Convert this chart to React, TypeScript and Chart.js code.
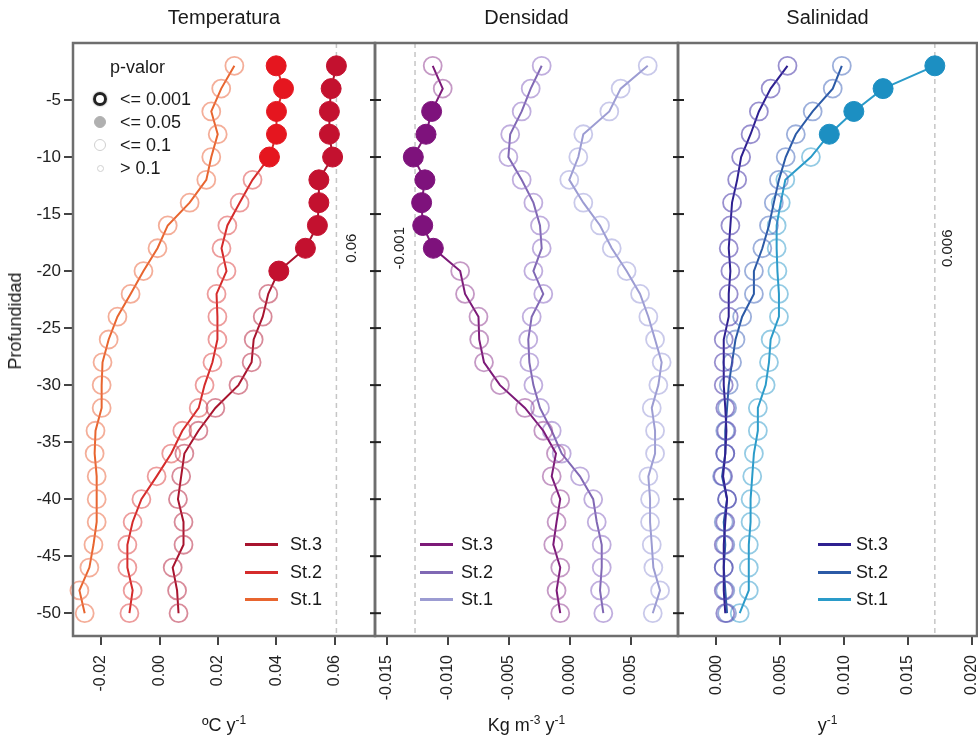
import React, { useEffect, useRef } from 'react';
import { Chart, registerables } from 'chart.js';
Chart.register(...registerables);

const FONT = "'Liberation Sans', Arial, sans-serif";

const DEPTHS = [-2, -4, -6, -8, -10, -12, -14, -16, -18, -20, -22, -24, -26, -28, -30, -32, -34, -36, -38, -40, -42, -44, -46, -48, -50];
const Y_TICKS = [-5, -10, -15, -20, -25, -30, -35, -40, -45, -50];

const TEMP_TICKS = [-0.02, 0, 0.02, 0.04, 0.06];
const DENS_TICKS = [-0.015, -0.01, -0.005, 0, 0.005];
const SAL_TICKS = [0, 0.005, 0.01, 0.015, 0.02];

// Temperatura (ºC y-1)
const TEMP_ST3 = [0.0605, 0.0587, 0.0581, 0.0581, 0.0592, 0.0545, 0.0545, 0.054, 0.0499, 0.0408, 0.0372, 0.0353, 0.0322, 0.0315, 0.027, 0.0191, 0.0133, 0.0085, 0.0074, 0.0063, 0.0082, 0.0082, 0.0045, 0.006, 0.0065];
const TEMP_ST2 = [0.0399, 0.0424, 0.040, 0.040, 0.0376, 0.0318, 0.0274, 0.0232, 0.0212, 0.0229, 0.0195, 0.0198, 0.0198, 0.0181, 0.0154, 0.0134, 0.0078, 0.004, -0.001, -0.0062, -0.0092, -0.011, -0.011, -0.0092, -0.0103];
const TEMP_ST1 = [0.0256, 0.0211, 0.0177, 0.0199, 0.0177, 0.016, 0.0103, 0.0028, -0.0007, -0.0055, -0.0099, -0.0144, -0.0174, -0.0195, -0.0198, -0.0198, -0.0219, -0.0222, -0.0215, -0.0215, -0.0215, -0.0226, -0.024, -0.0274, -0.0256];
const TEMP_ST3_SIG = [1, 1, 1, 1, 1, 1, 1, 1, 1, 1, 0, 0, 0, 0, 0, 0, 0, 0, 0, 0, 0, 0, 0, 0, 0];
const TEMP_ST2_SIG = [1, 1, 1, 1, 1, 0, 0, 0, 0, 0, 0, 0, 0, 0, 0, 0, 0, 0, 0, 0, 0, 0, 0, 0, 0];
const TEMP_ST1_SIG = [0, 0, 0, 0, 0, 0, 0, 0, 0, 0, 0, 0, 0, 0, 0, 0, 0, 0, 0, 0, 0, 0, 0, 0, 0];

// Densidad (Kg m-3 y-1)
const DENS_ST3 = [-0.01125, -0.01043, -0.01134, -0.0118, -0.01284, -0.01189, -0.01216, -0.01207, -0.0112, -0.009, -0.0086, -0.0075, -0.00744, -0.00705, -0.00574, -0.00369, -0.00219, -0.00115, -0.0015, -0.0008, -0.0011, -0.00137, -0.0008, -0.0011, -0.0008];
const DENS_ST2 = [-0.00232, -0.00322, -0.00396, -0.0049, -0.00505, -0.00396, -0.003, -0.00246, -0.00232, -0.003, -0.00219, -0.00314, -0.00342, -0.00333, -0.003, -0.00246, -0.0015, -0.00068, 0.00082, 0.0019, 0.00219, 0.0026, 0.0026, 0.00246, 0.00273];
const DENS_ST1 = [0.00637, 0.00415, 0.00322, 0.00109, 0.00068, -0.00006, 0.00109, 0.00246, 0.00342, 0.00464, 0.00574, 0.00642, 0.00697, 0.00751, 0.00724, 0.0067, 0.00697, 0.00697, 0.00642, 0.00656, 0.00656, 0.0067, 0.00683, 0.00738, 0.00678];
const DENS_ST3_SIG = [0, 0, 1, 1, 1, 1, 1, 1, 1, 0, 0, 0, 0, 0, 0, 0, 0, 0, 0, 0, 0, 0, 0, 0, 0];
const DENS_ST2_SIG = [0, 0, 0, 0, 0, 0, 0, 0, 0, 0, 0, 0, 0, 0, 0, 0, 0, 0, 0, 0, 0, 0, 0, 0, 0];
const DENS_ST1_SIG = [0, 0, 0, 0, 0, 0, 0, 0, 0, 0, 0, 0, 0, 0, 0, 0, 0, 0, 0, 0, 0, 0, 0, 0, 0];

// Salinidad (y-1)
const SAL_ST3 = [0.00557, 0.00425, 0.00333, 0.00268, 0.00194, 0.00163, 0.00123, 0.0011, 0.00097, 0.0011, 0.00097, 0.00097, 0.00058, 0.00058, 0.00058, 0.0007, 0.00079, 0.0007, 0.00053, 0.00084, 0.0007, 0.00058, 0.00058, 0.00058, 0.0007];
const SAL_ST2 = [0.00982, 0.00911, 0.00754, 0.00622, 0.00543, 0.0049, 0.0045, 0.00412, 0.0036, 0.00294, 0.00294, 0.00202, 0.0015, 0.00123, 0.00097, 0.00084, 0.0007, 0.0007, 0.00045, 0.00084, 0.00058, 0.0007, 0.00058, 0.0007, 0.00084];
const SAL_ST1 = [0.0171, 0.01305, 0.01076, 0.00884, 0.0074, 0.0054, 0.00504, 0.00472, 0.00472, 0.00478, 0.0049, 0.0049, 0.00425, 0.00412, 0.00386, 0.00325, 0.00325, 0.00294, 0.00281, 0.00268, 0.00268, 0.00254, 0.00254, 0.00254, 0.00183];
const SAL_ST3_SIG = [0, 0, 0, 0, 0, 0, 0, 0, 0, 0, 0, 0, 0, 0, 0, 0, 0, 0, 0, 0, 0, 0, 0, 0, 0];
const SAL_ST2_SIG = [0, 0, 0, 0, 0, 0, 0, 0, 0, 0, 0, 0, 0, 0, 0, 0, 0, 0, 0, 0, 0, 0, 0, 0, 0];
const SAL_ST1_SIG = [1, 1, 1, 1, 0, 0, 0, 0, 0, 0, 0, 0, 0, 0, 0, 0, 0, 0, 0, 0, 0, 0, 0, 0, 0];

const SERIES_LABELS = ['St.3', 'St.2', 'St.1'];
const REF_VALUES = [0.0605, -0.0127, 0.0171];
const REF_LABELS = ['0.06', '-0.001', '0.006'];
const P_LEGEND = ['<= 0.001', '<= 0.05', '<= 0.1', '> 0.1'];

type Series = { label: string; values: number[]; sig: number[]; line: string; fill: string; open: string };
type Panel = {
  title: string;
  xMin: number; xMax: number; ticks: number[]; decimals: number;
  refValue: number; refLabel: string; refSide: number;
  series: Series[];
  canvasLeft: number; canvasWidth: number; padLeft: number; padRight: number; showY: boolean;
  legendLineX: number; legendTextX: number;
  axisTitle: React.ReactNode;
};

const sup = (t: string) => (
  <span style={{ fontSize: 12, position: 'relative', top: -7 }}>{t}</span>
);

const PANELS: Panel[] = [
  {
    title: 'Temperatura', xMin: -0.0296, xMax: 0.0737, ticks: TEMP_TICKS, decimals: 2,
    refValue: REF_VALUES[0], refLabel: REF_LABELS[0], refSide: 15,
    series: [
      { label: SERIES_LABELS[0], values: TEMP_ST3, sig: TEMP_ST3_SIG, line: '#a8142e', fill: '#c3112f', open: 'rgba(190,60,85,0.6)' },
      { label: SERIES_LABELS[1], values: TEMP_ST2, sig: TEMP_ST2_SIG, line: '#d52b2b', fill: '#e5161f', open: 'rgba(222,75,75,0.55)' },
      { label: SERIES_LABELS[2], values: TEMP_ST1, sig: TEMP_ST1_SIG, line: '#e8652f', fill: '#e8652f', open: 'rgba(236,120,85,0.6)' },
    ],
    canvasLeft: 0, canvasWidth: 377, padLeft: 0, padRight: 2, showY: true,
    legendLineX: 245, legendTextX: 290,
    axisTitle: <>ºC y{sup('-1')}</>,
  },
  {
    title: 'Densidad', xMin: -0.01598, xMax: 0.00885, ticks: DENS_TICKS, decimals: 3,
    refValue: REF_VALUES[1], refLabel: REF_LABELS[1], refSide: -15,
    series: [
      { label: SERIES_LABELS[0], values: DENS_ST3, sig: DENS_ST3_SIG, line: '#7c1a78', fill: '#7e127c', open: 'rgba(150,70,150,0.55)' },
      { label: SERIES_LABELS[1], values: DENS_ST2, sig: DENS_ST2_SIG, line: '#8068b4', fill: '#8068b4', open: 'rgba(150,120,200,0.6)' },
      { label: SERIES_LABELS[2], values: DENS_ST1, sig: DENS_ST1_SIG, line: '#9c9cd2', fill: '#9c9cd2', open: 'rgba(165,165,220,0.6)' },
    ],
    canvasLeft: 362, canvasWidth: 318, padLeft: 13, padRight: 2, showY: false,
    legendLineX: 420, legendTextX: 461,
    axisTitle: <>Kg m{sup('-3')} y{sup('-1')}</>,
  },
  {
    title: 'Salinidad', xMin: -0.003, xMax: 0.0204, ticks: SAL_TICKS, decimals: 3,
    refValue: REF_VALUES[2], refLabel: REF_LABELS[2], refSide: 13,
    series: [
      { label: SERIES_LABELS[0], values: SAL_ST3, sig: SAL_ST3_SIG, line: '#2e2090', fill: '#2e2090', open: 'rgba(85,70,175,0.6)' },
      { label: SERIES_LABELS[1], values: SAL_ST2, sig: SAL_ST2_SIG, line: '#2b5aa6', fill: '#2b5aa6', open: 'rgba(75,110,190,0.55)' },
      { label: SERIES_LABELS[2], values: SAL_ST1, sig: SAL_ST1_SIG, line: '#2a9bc9', fill: '#1c8fc2', open: 'rgba(60,160,205,0.55)' },
    ],
    canvasLeft: 665, canvasWidth: 313, padLeft: 13, padRight: 1, showY: false,
    legendLineX: 818, legendTextX: 856,
    axisTitle: <>y{sup('-1')}</>,
  },
];

const framePlugin = {
  id: 'panelFrame',
  beforeDatasetsDraw(chart: any, _a: any, opts: any) {
    const { ctx, chartArea: a } = chart;
    const x = chart.scales.x.getPixelForValue(opts.refValue);
    ctx.save();
    ctx.strokeStyle = '#c6c6c6';
    ctx.lineWidth = 1.5;
    ctx.setLineDash([5, 4]);
    ctx.beginPath();
    ctx.moveTo(x, a.top);
    ctx.lineTo(x, a.bottom);
    ctx.stroke();
    ctx.setLineDash([]);
    const ly = chart.scales.y.getPixelForValue(-18);
    ctx.translate(x + opts.refSide, ly);
    ctx.rotate(-Math.PI / 2);
    ctx.font = `15px ${FONT}`;
    ctx.fillStyle = '#222';
    ctx.textAlign = 'center';
    ctx.textBaseline = 'middle';
    ctx.fillText(opts.refLabel, 0, 0);
    ctx.restore();
  },
  afterDraw(chart: any, _a: any, opts: any) {
    const { ctx, chartArea: a } = chart;
    ctx.save();
    ctx.strokeStyle = '#6e6e6e';
    ctx.lineWidth = 2.5;
    ctx.strokeRect(a.left, a.top, a.right - a.left, a.bottom - a.top);
    if (opts.crossTicks) {
      ctx.strokeStyle = '#222';
      ctx.lineWidth = 2;
      Y_TICKS.forEach((v) => {
        const y = chart.scales.y.getPixelForValue(v);
        ctx.beginPath();
        ctx.moveTo(a.left - 5, y);
        ctx.lineTo(a.left + 6, y);
        ctx.stroke();
      });
    }
    ctx.restore();
  },
};

function PanelChart({ panel }: { panel: Panel }) {
  const ref = useRef<HTMLCanvasElement>(null);
  useEffect(() => {
    const chart = new Chart(ref.current as HTMLCanvasElement, {
      type: 'line',
      data: {
        datasets: panel.series.map((s) => ({
          label: s.label,
          data: DEPTHS.map((d, i) => ({ x: s.values[i], y: d })),
          borderColor: s.line,
          borderWidth: 2,
          tension: 0,
          fill: false,
          clip: false,
          pointStyle: 'circle',
          pointRadius: s.sig.map((v) => (v ? 10 : 9)),
          pointBackgroundColor: s.sig.map((v) => (v ? s.fill : 'rgba(255,255,255,0)')),
          pointBorderColor: s.sig.map((v) => (v ? s.fill : s.open)),
          pointBorderWidth: s.sig.map((v) => (v ? 1 : 1.8)),
        })),
      } as any,
      options: {
        responsive: false,
        animation: false,
        events: [],
        layout: { autoPadding: false, padding: { top: 43, bottom: 0, left: panel.padLeft, right: panel.padRight } },
        plugins: {
          legend: { display: false },
          tooltip: { enabled: false },
          panelFrame: { refValue: panel.refValue, refLabel: panel.refLabel, refSide: panel.refSide, crossTicks: !panel.showY },
        } as any,
        scales: {
          x: {
            type: 'linear',
            min: panel.xMin,
            max: panel.xMax,
            afterBuildTicks: (s: any) => { s.ticks = panel.ticks.map((v) => ({ value: v })); },
            afterFit: (s: any) => { s.height = 102; s.paddingLeft = 0; s.paddingRight = 0; },
            ticks: {
              autoSkip: false,
              minRotation: 90,
              maxRotation: 90,
              padding: 10,
              color: '#222',
              font: { family: FONT, size: 16 },
              callback: (v: any) => Number(v).toFixed(panel.decimals),
            },
            grid: { display: true, drawOnChartArea: false, drawTicks: true, tickLength: 9, color: '#444', lineWidth: 2 },
            border: { display: false },
          },
          y: {
            type: 'linear',
            min: -52,
            max: 0,
            display: panel.showY,
            afterBuildTicks: (s: any) => { s.ticks = Y_TICKS.map((v) => ({ value: v })); },
            afterFit: (s: any) => { s.width = panel.showY ? 73 : 0; s.paddingTop = 0; s.paddingBottom = 0; },
            ticks: { autoSkip: false, padding: 3, color: '#222', font: { family: FONT, size: 17 } },
            grid: { display: true, drawOnChartArea: false, drawTicks: true, tickLength: 9, color: '#444', lineWidth: 2 },
            border: { display: false },
          },
        },
      } as any,
      plugins: [framePlugin as any],
    });
    return () => chart.destroy();
  }, [panel]);
  return (
    <canvas
      ref={ref}
      width={panel.canvasWidth}
      height={738}
      style={{ position: 'absolute', left: panel.canvasLeft, top: 0, width: panel.canvasWidth, height: 738 }}
    />
  );
}

const PANEL_BOUNDS = [[73, 375], [375, 678], [678, 977]];
const LEGEND_Y = [544, 572, 599];
const P_MARK_Y = [99, 122, 145, 168];

export default function App() {
  return (
    <div style={{ position: 'fixed', left: 0, top: 0, width: 978, height: 738, background: '#fff', fontFamily: FONT, color: '#1a1a1a', overflow: 'hidden' }}>
      {PANELS.map((p) => (
        <PanelChart key={p.title} panel={p} />
      ))}
      {PANELS.map((p, i) => (
        <div key={'t' + i} style={{ position: 'absolute', left: PANEL_BOUNDS[i][0], width: PANEL_BOUNDS[i][1] - PANEL_BOUNDS[i][0], top: 5, textAlign: 'center', fontSize: 20, lineHeight: '24px', whiteSpace: 'nowrap' }}>
          {p.title}
        </div>
      ))}
      {PANELS.map((p, i) => (
        <div key={'a' + i} style={{ position: 'absolute', left: PANEL_BOUNDS[i][0], width: PANEL_BOUNDS[i][1] - PANEL_BOUNDS[i][0], top: 715, textAlign: 'center', fontSize: 18, lineHeight: '20px', whiteSpace: 'nowrap' }}>
          {p.axisTitle}
        </div>
      ))}
      <div style={{ position: 'absolute', left: 15, top: 321, transform: 'translate(-50%, -50%) rotate(-90deg)', fontSize: 18, lineHeight: '20px', whiteSpace: 'nowrap' }}>
        Profundidad
      </div>
      {PANELS.map((p, i) =>
        p.series.map((s, j) => (
          <React.Fragment key={'l' + i + j}>
            <div style={{ position: 'absolute', left: p.legendLineX, top: LEGEND_Y[j] - 1.5, width: 33, height: 3, background: s.line }} />
            <div style={{ position: 'absolute', left: p.legendTextX, top: LEGEND_Y[j] - 10, fontSize: 18, lineHeight: '20px', whiteSpace: 'nowrap' }}>{s.label}</div>
          </React.Fragment>
        ))
      )}
      <div style={{ position: 'absolute', left: 110, top: 57, fontSize: 18, lineHeight: '20px', whiteSpace: 'nowrap' }}>p-valor</div>
      {P_LEGEND.map((t, k) => {
        const markers = [
          { size: 14, border: '3px solid #222', bg: 'transparent', shadow: '0 0 2px #888' },
          { size: 12, border: '1px solid #b0b0b0', bg: '#b0b0b0', shadow: 'none' },
          { size: 12, border: '1.5px solid #cfcfcf', bg: 'transparent', shadow: 'none' },
          { size: 7, border: '1.5px solid #cfcfcf', bg: 'transparent', shadow: 'none' },
        ];
        const m = markers[k];
        return (
          <React.Fragment key={'p' + k}>
            <div style={{ position: 'absolute', left: 100 - m.size / 2, top: P_MARK_Y[k] - m.size / 2, width: m.size, height: m.size, boxSizing: 'border-box', borderRadius: '50%', border: m.border, background: m.bg, boxShadow: m.shadow }} />
            <div style={{ position: 'absolute', left: 120, top: P_MARK_Y[k] - 10, fontSize: 18, lineHeight: '20px', whiteSpace: 'nowrap' }}>{t}</div>
          </React.Fragment>
        );
      })}
    </div>
  );
}
